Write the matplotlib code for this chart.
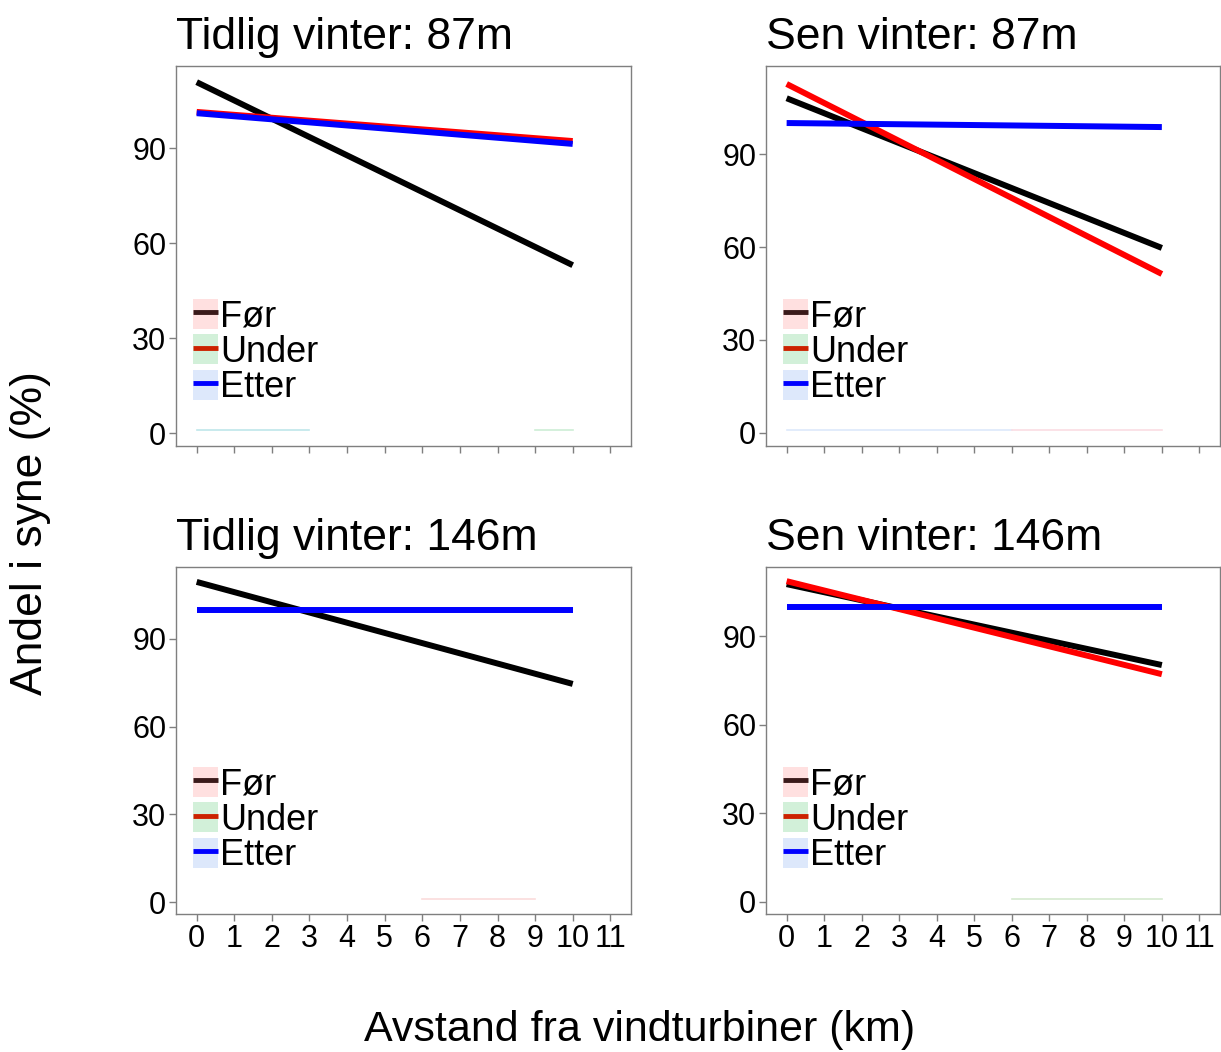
import numpy as np
import matplotlib.pyplot as plt
from matplotlib.lines import Line2D
from matplotlib.patches import Patch

plt.rcParams['font.family'] = ['Liberation Sans', 'DejaVu Sans']

# panel titles
titles = ["Tidlig vinter: 87m", "Sen vinter: 87m",
          "Tidlig vinter: 146m", "Sen vinter: 146m"]

# fitted lines: value at 0 km and at 10 km
dist = [0, 10]
foer = [[110.8, 53.0], [108.0, 59.7], [109.5, 74.6], [107.6, 80.2]]
under = [[101.4, 92.2], [112.6, 51.3], None, [108.6, 77.1]]
etter = [[101.0, 91.3], [100.0, 98.7], [100.0, 100.0], [100.0, 100.0]]

# faint bands near zero: (x start, x end, colour)
faint = [
    [(0, 3, '#bfe6ea'), (9, 10, '#cdeed6')],
    [(0, 6, '#dde9fb'), (6, 10, '#fbdde3')],
    [(6, 9, '#fbdcdc')],
    [(6, 10, '#d6ead0')],
]
faint_y = 1

ylims = [(-4.1, 115.9), (-4.2, 118.4), (-4.1, 114.6), (-4.1, 113.4)]

xticks = list(range(0, 12))
yticks = [0, 30, 60, 90]

labels = ["Før", "Under", "Etter"]
key_bg = ['#ffe0e0', '#d2f0d9', '#dde8fb']
key_line = ['#3a1a1a', '#cc2200', '#0000ff']

W, H = 1221, 1052
fig = plt.figure(figsize=(W / 100, H / 100), dpi=100)

boxes = [(176, 66, 455, 380), (766, 66, 454, 380),
         (176, 567, 455, 347), (766, 567, 454, 347)]

for i, (x0, y0, w, h) in enumerate(boxes):
    ax = fig.add_axes([x0 / W, 1 - (y0 + h) / H, w / W, h / H])
    for (a, b, c) in faint[i]:
        ax.plot([a, b], [faint_y, faint_y], color=c, lw=1.2)
    ax.plot(dist, foer[i], color='black', lw=4.3, solid_capstyle='butt')
    if under[i] is not None:
        ax.plot(dist, under[i], color='red', lw=4.3, solid_capstyle='butt')
    ax.plot(dist, etter[i], color='blue', lw=4.3, solid_capstyle='butt')

    ax.set_xlim(-0.55, 11.55)
    ax.set_ylim(*ylims[i])
    ax.set_xticks(xticks)
    ax.set_yticks(yticks)
    if i >= 2:
        ax.set_xticklabels([str(t) for t in xticks])
    else:
        ax.set_xticklabels([])
    ax.tick_params(labelsize=22, colors='#7f7f7f', labelcolor='black',
                   length=5, width=1, pad=2)
    for s in ax.spines.values():
        s.set_color('#7f7f7f')
        s.set_linewidth(1)
    ax.set_title(titles[i], loc='left', fontsize=32, pad=12)

    handles = [(Patch(facecolor=key_bg[k], edgecolor='none'),
                Line2D([], [], color=key_line[k], lw=3.5,
                       solid_capstyle='butt'))
               for k in range(3)]
    ax.legend(handles, labels, loc='lower left',
              bbox_to_anchor=(17 / w, 41 / h), frameon=False,
              fontsize=26, handlelength=0.7, handleheight=0.9,
              handletextpad=0.05, labelspacing=0.0, borderpad=0,
              borderaxespad=0)

fig.text(31 / W, 1 - 533 / H, "Andel i syne (%)", rotation=90,
         ha='center', va='center', fontsize=32)
fig.text(640 / W, 1 - 1030 / H, "Avstand fra vindturbiner (km)",
         ha='center', va='center', fontsize=31)

fig.savefig('out.png', dpi=100)
